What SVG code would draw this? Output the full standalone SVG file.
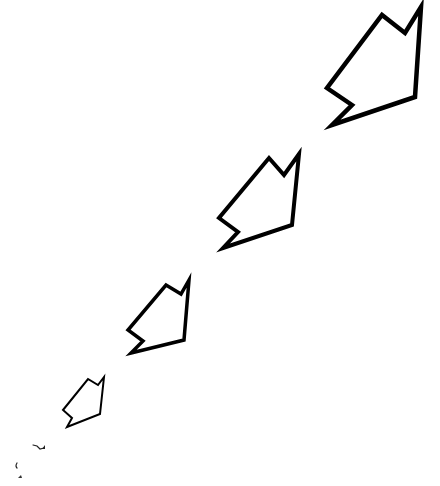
<svg xmlns="http://www.w3.org/2000/svg" width="440" height="486" viewBox="0 0 440 486">
  <style>
    .arrow { fill: none; stroke: #000; stroke-linejoin: miter; stroke-miterlimit: 10; }
    .mark { fill: none; stroke: #222; stroke-width: 1.2; stroke-linecap: round; }
  </style>
  <rect width="440" height="486" fill="#fff"/>
  <g id="arrow-1">
    <polygon class="arrow" stroke-width="4.5" points="421,7 405,33 382,15 327,88 352,105 332,125 415,97"/>
  </g>
  <g id="arrow-2">
    <polygon class="arrow" stroke-width="4" points="299,154 284,175 269,158 219,218 238,232 223,248 292,225"/>
  </g>
  <g id="arrow-3">
    <polygon class="arrow" stroke-width="3.5" points="189,280 181,294 166,285 128,330 143,341 131,353 184,340"/>
  </g>
  <g id="arrow-4">
    <polygon class="arrow" stroke-width="2" points="104,377 98,385 88,379 63,410 72,418 67,427 100,414"/>
  </g>
  <g id="marks">
    <path class="mark" d="M33,445 L37,446 L40,449 L44,448"/>
    <path d="M42,449 L45,445 L45,449 Z" fill="#222"/>
    <path class="mark" stroke-width="0.8" d="M17,463 Q15,466 17,468"/>
    <path d="M18,478 L21,475 L22,478 Z" fill="#333"/>
  </g>
</svg>
